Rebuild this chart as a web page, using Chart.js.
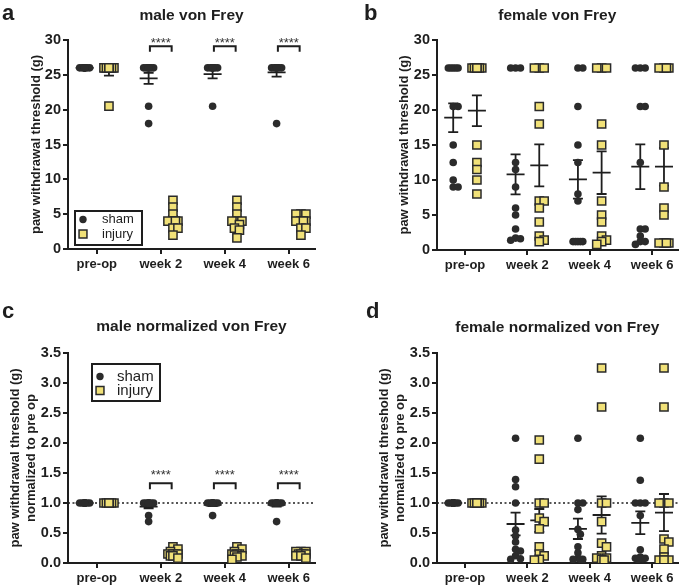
<!DOCTYPE html>
<html>
<head>
<meta charset="utf-8">
<script src="https://cdn.jsdelivr.net/npm/chart.js@4.4.1/dist/chart.umd.min.js"></script>
<style>
  body { margin: 0; background: #fff; width: 685px; height: 585px; position: relative; overflow: hidden; }
  canvas { position: absolute; }
</style>
</head>
<body>
<canvas id="panelA" width="340" height="290" style="left:0;top:0"></canvas>
<canvas id="panelB" width="345" height="290" style="left:340px;top:0"></canvas>
<canvas id="panelC" width="340" height="295" style="left:0;top:290px"></canvas>
<canvas id="panelD" width="345" height="295" style="left:340px;top:290px"></canvas>
<script>
// ---- data ----
const categories = ['pre-op', 'week 2', 'week 4', 'week 6'];

// a: male von Frey (g)
const maleSham = [
    [26, 26, 26, 26, 26, 26, 26, 26, 26],
    [26, 26, 26, 26, 26, 26, 26, 20.5, 18],
    [26, 26, 26, 26, 26, 26, 26, 26, 20.5],
    [26, 26, 26, 26, 26, 26, 26, 26, 18]
];
const maleInjury = [
    [26, 26, 26, 26, 26, 26, 26, 26, 26, 20.5],
    [7, 6, 5, 4, 4, 4, 4, 3, 3, 2],
    [7, 6, 5, 4, 4, 4, 3.5, 3, 2.7, 1.6],
    [5, 5, 5, 4, 4, 4, 4, 3, 3, 2]
];
const maleShamMean = [26, 24.5, 25.1, 25.35];
const maleShamSem = [0, 0.8, 0.6, 0.6];
const maleInjuryMean = [25.45, 4.2, 4.1, 3.9];
const maleInjurySem = [0.55, 0.5, 0.5, 0.3];

// b: female von Frey (g)
const femaleSham = [
    [26, 26, 26, 26, 26, 20.5, 20.5, 15, 12.5, 10, 9, 9],
    [26, 26, 26, 12.5, 11.5, 9, 6, 5, 3, 1.7, 1.6, 1.4],
    [26, 26, 20.5, 15, 12.5, 8, 7, 1.2, 1.2, 1.2, 1.2, 1.2],
    [26, 26, 26, 20.5, 20.5, 12.5, 3, 3, 2, 1.2, 1.2, 0.8]
];
const femaleInjury = [
    [26, 26, 26, 26, 26, 26, 26, 15, 12.5, 11.5, 10, 8],
    [26, 26, 26, 20.5, 18, 7, 7, 6, 4, 2, 1.4, 1.2],
    [26, 26, 26, 18, 15, 7, 5, 4, 2, 1.4, 1.2, 0.8],
    [26, 26, 26, 26, 15, 9, 6, 5, 1, 1, 1, 1]
];
const femaleShamMean = [18.9, 10.8, 10.1, 11.9];
const femaleShamSem = [2.05, 2.85, 2.75, 3.2];
const femaleInjuryMean = [19.9, 12.1, 11.05, 11.9];
const femaleInjurySem = [2.2, 3.0, 3.05, 2.7];

// c: male normalized to pre op
const maleShamNorm = [
    [1, 1, 1, 1, 1, 1, 1, 1, 1],
    [1, 1, 1, 1, 1, 1, 1, 0.79, 0.69],
    [1, 1, 1, 1, 1, 1, 1, 1, 0.79],
    [1, 1, 1, 1, 1, 1, 1, 1, 0.69]
];
const maleInjuryNorm = [
    [1, 1, 1, 1, 1, 1, 1, 1, 1, 1],
    [0.27, 0.23, 0.19, 0.15, 0.15, 0.15, 0.15, 0.12, 0.12, 0.08],
    [0.27, 0.23, 0.19, 0.15, 0.15, 0.15, 0.13, 0.12, 0.1, 0.06],
    [0.19, 0.19, 0.19, 0.15, 0.15, 0.15, 0.15, 0.12, 0.12, 0.08]
];
const maleShamNormMean = [1, 0.94, 0.97, 0.97];
const maleShamNormSem = [0, 0.03, 0.02, 0.03];
const maleInjuryNormMean = [1, 0.16, 0.16, 0.15];
const maleInjuryNormSem = [0, 0.02, 0.02, 0.01];

// d: female normalized to pre op
const femaleShamNorm = [
    [1, 1, 1, 1, 1, 1, 1, 1, 1, 1, 1, 1],
    [2.08, 1.39, 1.27, 1.0, 0.55, 0.45, 0.35, 0.23, 0.2, 0.12, 0.07, 0.06],
    [2.08, 1.0, 1.0, 0.89, 0.56, 0.48, 0.27, 0.17, 0.08, 0.06, 0.06, 0.06],
    [2.08, 1.38, 1.0, 1.0, 1.0, 0.79, 0.22, 0.1, 0.08, 0.08, 0.07, 0.06]
];
const femaleInjuryNorm = [
    [1, 1, 1, 1, 1, 1, 1, 1, 1, 1, 1, 1],
    [2.05, 1.73, 1.0, 1.0, 0.75, 0.69, 0.57, 0.27, 0.15, 0.12, 0.06, 0.05],
    [3.25, 2.6, 1.0, 1.0, 0.69, 0.33, 0.27, 0.12, 0.08, 0.08, 0.06, 0.05],
    [3.25, 2.6, 1.0, 1.0, 1.0, 0.4, 0.35, 0.23, 0.1, 0.05, 0.05, 0.05]
];
const femaleShamNormMean = [1, 0.65, 0.57, 0.67];
const femaleShamNormSem = [0, 0.19, 0.17, 0.19];
const femaleInjuryNormMean = [1, 0.71, 0.80, 0.84];
const femaleInjuryNormSem = [0, 0.19, 0.31, 0.31];

// significance (**** at these categories)
const sigCategories = [1, 2, 3];
const sigText = '****';

// ---- style ----
const FONT = "'Liberation Sans', Arial, sans-serif";
const INK = '#1e1e1e';
const DOT = '#2b2b2b';
const YELLOW = '#f1e178';
const SIDE = 0.19;       // group offset from category centre
const PX_PER_CAT = 64;   // approx pixels per category unit

Chart.defaults.font.family = FONT;
Chart.defaults.color = INK;

// Prism-like spreading of overlapping points (deterministic)
function swarm(values, center, pxPerUnit)
{
    const placed = [];
    const cands = [0, 2.5, -2.5, 5, -5];
    const out = [];
    const order = values.map((v, i) => i).sort((a, b) => values[b] - values[a]);
    order.forEach(i => {
        const py = values[i] * pxPerUnit;
        let best = 0, bestD = -1;
        for (const c of cands) {
            let md = Infinity;
            placed.forEach(p => { md = Math.min(md, Math.hypot(p.x - c, p.y - py)); });
            if (md >= 5) { best = c; break; }
            if (md > bestD) { bestD = md; best = c; }
        }
        placed.push({x: best, y: py});
        out.push({x: center + best / PX_PER_CAT, y: values[i]});
    });
    return out;
}

function groupPoints(groups, side, pxPerUnit)
{
    const pts = [];
    groups.forEach((vals, ci) => pts.push(...swarm(vals, ci + side * SIDE, pxPerUnit)));
    return pts;
}

// Titles, letters, error bars, brackets, legend, reference line
const decoPlugin = {
    id: 'deco',
    beforeDatasetsDraw(chart, args, o)
    {
        const ctx = chart.ctx;
        const xs = chart.scales.x, ys = chart.scales.y;
        const area = chart.chartArea;
        ctx.save();
        if (o.refLine !== undefined) {
            const y = ys.getPixelForValue(o.refLine);
            ctx.strokeStyle = INK;
            ctx.lineWidth = 1.5;
            ctx.setLineDash([2, 2.5]);
            ctx.beginPath();
            ctx.moveTo(area.left, y);
            ctx.lineTo(area.right, y);
            ctx.stroke();
            ctx.setLineDash([]);
        }
        ctx.strokeStyle = INK;
        ctx.lineWidth = 1.8;
        [[o.shamMean, o.shamSem, -1], [o.injMean, o.injSem, 1]].forEach(([means, sems, side]) => {
            means.forEach((m, i) => {
                const x = xs.getPixelForValue(i + side * SIDE);
                const ym = ys.getPixelForValue(m);
                ctx.beginPath();
                ctx.moveTo(x - 9, ym);
                ctx.lineTo(x + 9, ym);
                if (sems[i] > 0) {
                    const yt = ys.getPixelForValue(m + sems[i]);
                    const yb = ys.getPixelForValue(m - sems[i]);
                    ctx.moveTo(x, yt); ctx.lineTo(x, yb);
                    ctx.moveTo(x - 5, yt); ctx.lineTo(x + 5, yt);
                    ctx.moveTo(x - 5, yb); ctx.lineTo(x + 5, yb);
                }
                ctx.stroke();
            });
        });
        ctx.restore();
    },
    afterDraw(chart, args, o)
    {
        const ctx = chart.ctx;
        const xs = chart.scales.x, ys = chart.scales.y;
        const area = chart.chartArea;
        ctx.save();
        ctx.fillStyle = INK;
        // panel letter
        ctx.font = 'bold 22px ' + FONT;
        ctx.textAlign = 'left';
        ctx.textBaseline = 'alphabetic';
        ctx.fillText(o.letter, o.letterX, o.letterY);
        // panel title
        ctx.font = 'bold 15.5px ' + FONT;
        ctx.textAlign = 'center';
        ctx.fillText(o.title, (area.left + area.right) / 2, o.titleY);

        // significance brackets
        if (o.sig) {
            ctx.strokeStyle = INK;
            ctx.lineWidth = 2;
            ctx.font = '13px ' + FONT;
            sigCategories.forEach(c => {
                const x1 = xs.getPixelForValue(c - 0.17);
                const x2 = xs.getPixelForValue(c + 0.17);
                const yTop = ys.getPixelForValue(o.sig.y);
                const yLeg = ys.getPixelForValue(o.sig.y - o.sig.drop);
                ctx.beginPath();
                ctx.moveTo(x1, yLeg); ctx.lineTo(x1, yTop); ctx.lineTo(x2, yTop); ctx.lineTo(x2, yLeg);
                ctx.stroke();
                ctx.fillStyle = '#333';
                ctx.fillText(sigText, (x1 + x2) / 2, ys.getPixelForValue(o.sig.starY) + 6.5);
            });
        }

        // legend box
        if (o.legend) {
            const L = o.legend;
            ctx.strokeStyle = INK;
            ctx.lineWidth = 2;
            ctx.strokeRect(L.x, L.y, L.w, L.h);
            ctx.fillStyle = DOT;
            Chart.helpers.drawPoint(ctx, {pointStyle: 'circle', radius: 3.7, borderWidth: 0}, L.mx, L.y1);
            ctx.fillStyle = YELLOW;
            ctx.strokeStyle = '#2a2a2a';
            ctx.lineWidth = 1.5;
            Chart.helpers.drawPoint(ctx, {pointStyle: 'rect', radius: 5.6, borderWidth: 1.5}, L.mx, L.y2);
            ctx.fillStyle = INK;
            ctx.font = L.font + 'px ' + FONT;
            ctx.textAlign = 'left';
            ctx.textBaseline = 'middle';
            ctx.fillText('sham', L.tx, L.y1);
            ctx.fillText('injury', L.tx, L.y2);
        }
        ctx.restore();
    }
};

function makePanel(id, p)
{
    const pxPerUnit = 209 / p.yMax;
    new Chart(document.getElementById(id), {
        type: 'scatter',
        data: {
            datasets: [
                {
                    label: 'sham',
                    data: groupPoints(p.sham, -1, pxPerUnit),
                    pointStyle: 'circle',
                    pointRadius: 3.8,
                    backgroundColor: DOT,
                    borderWidth: 0
                },
                {
                    label: 'injury',
                    data: groupPoints(p.injury, 1, pxPerUnit),
                    pointStyle: 'rect',
                    pointRadius: 5.8,
                    backgroundColor: YELLOW,
                    borderColor: '#2a2a2a',
                    borderWidth: 1.5
                }
            ]
        },
        options: {
            responsive: false,
            animation: false,
            events: [],
            layout: { padding: { top: p.padTop, left: 0, right: p.padRight, bottom: 0 } },
            scales: {
                x: {
                    type: 'linear',
                    min: -0.45,
                    max: 3.41,
                    afterBuildTicks: axis => { axis.ticks = categories.map((c, i) => ({value: i})); },
                    afterFit: axis => { axis.height = p.xHeight; },
                    ticks: {
                        callback: v => categories[v],
                        autoSkip: false,
                        maxRotation: 0,
                        padding: 3,
                        color: INK,
                        font: { weight: 'bold', size: 13 }
                    },
                    grid: { display: true, drawOnChartArea: false, drawTicks: true, tickLength: 5, lineWidth: 2, color: INK },
                    border: { display: true, color: INK, width: 2 }
                },
                y: {
                    type: 'linear',
                    min: 0,
                    max: p.yMax,
                    afterFit: axis => { axis.width = p.yWidth; },
                    ticks: {
                        stepSize: p.yStep,
                        callback: v => v.toFixed(p.decimals),
                        padding: 2,
                        color: INK,
                        font: { weight: 'bold', size: 14.5 }
                    },
                    grid: { display: true, drawOnChartArea: false, drawTicks: true, tickLength: 5, lineWidth: 2, color: INK },
                    border: { display: true, color: INK, width: 2 },
                    title: {
                        display: true,
                        text: p.yTitle,
                        color: INK,
                        font: { weight: 'bold', size: 13 },
                        padding: { top: p.yTitlePad, bottom: 0 }
                    }
                }
            },
            plugins: {
                legend: { display: false },
                tooltip: { enabled: false },
                deco: {
                    letter: p.letter, letterX: p.letterX, letterY: p.letterY,
                    title: p.title, titleY: p.titleY,
                    shamMean: p.shamMean, shamSem: p.shamSem,
                    injMean: p.injMean, injSem: p.injSem,
                    sig: p.sig, legend: p.legend, refLine: p.refLine
                }
            }
        },
        plugins: [decoPlugin]
    });
}

const yTitleG = 'paw withdrawal threshold (g)';
const yTitleNorm = ['paw withdrawal threshold (g)', 'normalized to pre op'];

makePanel('panelA', {
    sham: maleSham, injury: maleInjury,
    shamMean: maleShamMean, shamSem: maleShamSem, injMean: maleInjuryMean, injSem: maleInjurySem,
    yMax: 30, yStep: 5, decimals: 0, yTitle: yTitleG, yTitlePad: 29,
    padTop: 40, padRight: 25, yWidth: 68, xHeight: 41,
    letter: 'a', letterX: 2, letterY: 20, title: 'male von Frey', titleY: 20,
    sig: { y: 29.1, drop: 0.8, starY: 30.0 },
    legend: { x: 75, y: 211, w: 67, h: 34, mx: 83, tx: 102, y1: 219.5, y2: 234, font: 13 }
});

makePanel('panelB', {
    sham: femaleSham, injury: femaleInjury,
    shamMean: femaleShamMean, shamSem: femaleShamSem, injMean: femaleInjuryMean, injSem: femaleInjurySem,
    yMax: 30, yStep: 5, decimals: 0, yTitle: yTitleG, yTitlePad: 57,
    padTop: 40, padRight: 1, yWidth: 97, xHeight: 40,
    letter: 'b', letterX: 24, letterY: 20, title: 'female von Frey', titleY: 20
});

makePanel('panelC', {
    sham: maleShamNorm, injury: maleInjuryNorm,
    shamMean: maleShamNormMean, shamSem: maleShamNormSem, injMean: maleInjuryNormMean, injSem: maleInjuryNormSem,
    yMax: 3.5, yStep: 0.5, decimals: 1, yTitle: yTitleNorm, yTitlePad: 8,
    padTop: 63, padRight: 25, yWidth: 68, xHeight: 22,
    letter: 'c', letterX: 2, letterY: 28, title: 'male normalized von Frey', titleY: 41,
    sig: { y: 1.33, drop: 0.1, starY: 1.51 },
    legend: { x: 92, y: 74, w: 68, h: 37, mx: 100, tx: 117, y1: 86.5, y2: 100.5, font: 15 },
    refLine: 1
});

makePanel('panelD', {
    sham: femaleShamNorm, injury: femaleInjuryNorm,
    shamMean: femaleShamNormMean, shamSem: femaleShamNormSem, injMean: femaleInjuryNormMean, injSem: femaleInjuryNormSem,
    yMax: 3.5, yStep: 0.5, decimals: 1, yTitle: yTitleNorm, yTitlePad: 37,
    padTop: 63, padRight: 1, yWidth: 97, xHeight: 22,
    letter: 'd', letterX: 26, letterY: 28, title: 'female normalized von Frey', titleY: 42,
    refLine: 1
});
</script>
</body>
</html>
